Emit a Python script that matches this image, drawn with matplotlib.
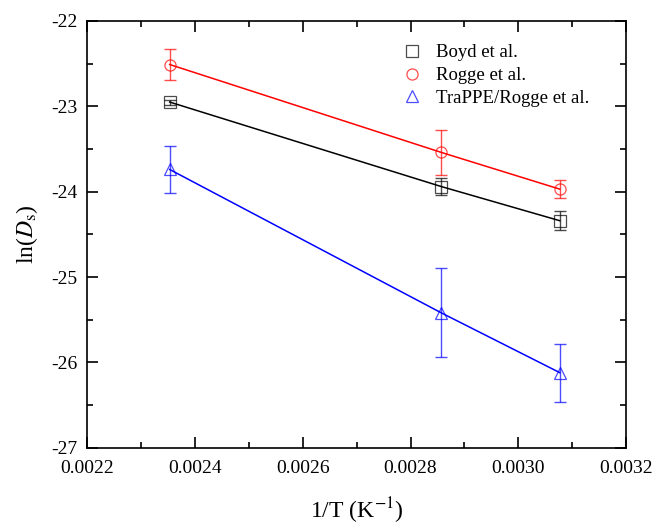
import matplotlib
matplotlib.use('Agg')
import matplotlib.pyplot as plt
from matplotlib.ticker import MultipleLocator, FormatStrFormatter

plt.rcParams['font.family'] = ['Liberation Serif', 'DejaVu Serif']
plt.rcParams['mathtext.fontset'] = 'stix'
plt.rcParams['axes.unicode_minus'] = False

# 1/T values (K^-1)
inv_T = [1 / 425, 1 / 350, 1 / 325]

# ln(Ds) and error bars
boyd = [-22.95, -23.94, -24.34]
boyd_err = [0.03, 0.10, 0.11]
rogge = [-22.51, -23.54, -23.97]
rogge_err = [0.18, 0.26, 0.11]
trappe = [-23.74, -25.42, -26.12]
trappe_err = [0.28, 0.52, 0.34]

series = [
    ('Boyd et al.', boyd, boyd_err, 'black', 's'),
    ('Rogge et al.', rogge, rogge_err, 'red', 'o'),
    ('TraPPE/Rogge et al.', trappe, trappe_err, 'blue', '^'),
]

fig = plt.figure(figsize=(6.55, 5.3), dpi=100)
ax = fig.add_axes([0.1333, 0.1553, 0.8224, 0.8051])

for label, y, err, color, marker in series:
    ax.plot(inv_T, y, color=color, lw=1.1)
    ax.errorbar(inv_T, y, yerr=err, fmt='none', ecolor=color,
                elinewidth=1.0, capsize=4, capthick=1.0, alpha=0.7)
    ax.plot(inv_T, y, ls='none', marker=marker, mfc='none', mec=color,
            ms=8, mew=0.9, alpha=0.7, label=label)

ax.set_xlim(0.0022, 0.0032)
ax.set_ylim(-27, -22)
ax.xaxis.set_major_locator(MultipleLocator(0.0002))
ax.xaxis.set_minor_locator(MultipleLocator(0.0001))
ax.xaxis.set_major_formatter(FormatStrFormatter('%.4f'))
ax.yaxis.set_major_locator(MultipleLocator(1))
ax.yaxis.set_minor_locator(MultipleLocator(0.5))
ax.tick_params(which='both', direction='in', top=True, right=True,
               labelsize=14, width=1.2)
ax.tick_params(which='major', length=8)
ax.tick_params(which='minor', length=4)
ax.tick_params(axis='x', pad=9)
ax.tick_params(axis='y', pad=7)
for s in ax.spines.values():
    s.set_linewidth(1.2)

ax.set_xlabel('1/T (K$^{-1}$)', fontsize=17, labelpad=13)
ax.set_ylabel(r'ln($\mathit{D}_{\mathrm{s}}$)', fontsize=17, labelpad=8)

leg = ax.legend(loc='upper left', bbox_to_anchor=(0.55, 0.985), frameon=False,
                fontsize=13.5, handletextpad=0.7, labelspacing=0.3,
                handlelength=1.2)

fig.savefig('out.png', dpi=100)
